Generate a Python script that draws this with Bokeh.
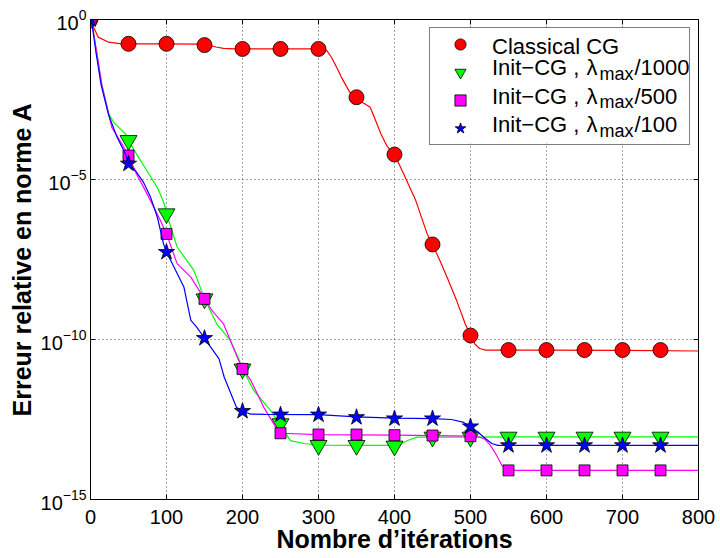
import numpy as np
from bokeh.plotting import figure
from bokeh.models import (Range1d, FixedTicker, LinearAxis, LogAxis, Legend, LegendItem,
                          CustomJSTickFormatter, LogTickFormatter)
from bokeh.core.properties import value
from bokeh.embed import file_html
from bokeh.resources import INLINE

# ---------------- data (log10 of relative A-norm error) ----------------
marker_iters = [0, 50, 100, 150, 200, 250, 300, 350, 400, 450, 500, 550, 600, 650, 700, 750]

cg_marker_log = [0, -0.76, -0.76, -0.80, -0.92, -0.92, -0.92, -2.43, -4.22, -7.03, -9.875,
                 -10.33, -10.33, -10.33, -10.33, -10.33]
l1000_marker_log = [0, -3.78, -6.07, -8.73, -10.92, -12.63, -13.31, -13.31, -13.33, -13.05, -13.05,
                    -13.05, -13.05, -13.05, -13.05, -13.05]
l500_marker_log = [0, -4.25, -6.70, -8.73, -10.92, -12.93, -12.97, -12.97, -12.99, -13.0, -13.02,
                   -14.09, -14.09, -14.09, -14.09, -14.09]
l100_marker_log = [0, -4.51, -7.27, -9.96, -12.24, -12.35, -12.35, -12.43, -12.47, -12.47, -12.72,
                   -13.31, -13.31, -13.31, -13.31, -13.31]

cg_line_iters = [0, 2, 10, 24, 41, 100, 140, 155, 165, 175, 190, 300, 306, 311, 317, 324, 330, 341,
                 350, 355, 368, 375, 382, 390, 395, 400, 412, 428, 443, 450, 460, 470, 482, 493, 500,
                 506, 512, 520, 600, 700, 800]
cg_line_log = [0, -0.13, -0.55, -0.71, -0.76, -0.76, -0.77, -0.80, -0.86, -0.90, -0.92, -0.92, -0.93,
               -0.97, -1.18, -1.50, -1.80, -2.27, -2.43, -2.55, -2.74, -3.15, -3.57, -3.95, -4.10,
               -4.22, -4.82, -5.66, -6.70, -7.03, -7.55, -8.10, -8.80, -9.51, -9.875, -10.15, -10.28,
               -10.33, -10.33, -10.34, -10.36]

l1000_line_iters = [0, 2, 8, 15, 24, 30, 37, 46, 50, 63, 75, 89, 97, 100, 114, 136, 150, 166, 184,
                    195, 200, 215, 237, 254, 263, 281, 300, 350, 400, 408, 418, 430, 500, 600, 700, 800]
l1000_line_log = [0, -0.13, -1.0, -2.05, -2.95, -3.2, -3.37, -3.57, -3.78, -4.3, -4.75, -5.3, -5.76,
                  -6.07, -7.11, -7.84, -8.73, -9.51, -10.03, -10.6, -10.92, -11.6, -12.22, -12.84,
                  -13.16, -13.25, -13.30, -13.31, -13.31, -13.26, -13.15, -13.05, -13.05, -13.04,
                  -13.04, -13.04]

l500_line_iters = [0, 2, 8, 15, 24, 28, 41, 50, 60, 72, 79, 92, 100, 114, 132, 150, 160, 175, 193,
                   200, 211, 228, 241, 246, 250, 300, 400, 500, 510, 518, 526, 534, 541, 548, 555,
                   600, 700, 800]
l500_line_log = [0, -0.13, -1.0, -2.05, -2.95, -3.37, -3.88, -4.25, -4.8, -5.34, -5.66, -6.28, -6.70,
                 -7.63, -8.05, -8.73, -9.1, -9.51, -10.55, -10.92, -11.28, -12.12, -12.63, -12.84,
                 -12.93, -12.97, -12.99, -13.02, -13.04, -13.1, -13.3, -13.6, -13.92, -14.07, -14.09,
                 -14.09, -14.09, -14.09]

l100_line_iters = [0, 2, 7, 14, 24, 35, 46, 50, 60, 70, 79, 88, 96, 100, 110, 123, 132, 140, 150,
                   160, 169, 176, 184, 192, 200, 210, 230, 300, 350, 400, 450, 475, 490, 500, 510,
                   520, 528, 536, 600, 700, 800]
l100_line_log = [0, -0.13, -1.0, -2.05, -3.0, -3.68, -4.2, -4.51, -4.75, -5.1, -5.55, -6.18, -7.0,
                 -7.27, -7.74, -8.37, -9.4, -9.62, -9.96, -10.3, -10.6, -11.18, -11.65, -12.12,
                 -12.24, -12.33, -12.34, -12.35, -12.42, -12.46, -12.47, -12.5, -12.58, -12.72,
                 -12.9, -13.1, -13.25, -13.31, -13.31, -13.31, -13.31]

x_ticks = [0, 100, 200, 300, 400, 500, 600, 700, 800]
y_tick_exponents = [0, -5, -10, -15]

series_labels = ["Classical CG", "Init\u2212CG ,", "Init\u2212CG ,", "Init\u2212CG ,"]
lambda_divisors = ["/1000", "/500", "/100"]

FONT = "Liberation Sans"

# ---------------- figure ----------------
p = figure(width=720, height=558, x_range=Range1d(0, 800), y_range=Range1d(1e-15, 1.0),
           y_axis_type="log", output_backend="svg", toolbar_location=None,
           min_border_left=90, min_border_right=22, min_border_top=19, min_border_bottom=59,
           background_fill_color="white", border_fill_color="white")
p.outline_line_color = "black"
p.outline_line_width = 1

xt = FixedTicker(ticks=x_ticks, minor_ticks=[])
yt = FixedTicker(ticks=[10.0 ** e for e in y_tick_exponents], minor_ticks=[])

xa = p.xaxis[0]
xa.ticker = xt
xa.major_tick_in = 5
xa.major_tick_out = 0
xa.minor_tick_line_color = None
xa.major_label_text_font = FONT
xa.major_label_text_font_size = "20px"
xa.major_label_text_color = "black"
xa.major_label_standoff = 10
xa.axis_label = "Nombre d\u2019it\u00e9rations"
xa.axis_label_text_font = FONT
xa.axis_label_text_font_style = "bold"
xa.axis_label_text_font_size = "25px"
xa.axis_label_text_color = "black"
xa.axis_label_standoff = -2
xa.axis_line_color = "black"
xa.major_tick_line_color = "black"

ya = p.yaxis[0]
ya.ticker = yt
ya.formatter = LogTickFormatter()
ya.major_tick_in = 5
ya.major_tick_out = 0
ya.minor_tick_line_color = None
ya.major_label_standoff = 4
ya.major_label_text_font = FONT
ya.major_label_text_font_size = "20px"
ya.major_label_text_color = "black"
ya.axis_label = "Erreur relative en norme A"
ya.axis_label_text_font = FONT
ya.axis_label_text_font_style = "bold"
ya.axis_label_text_font_size = "25px"
ya.axis_label_text_color = "black"
ya.axis_label_standoff = 2
ya.axis_line_color = "black"
ya.major_tick_line_color = "black"

top = LinearAxis(ticker=FixedTicker(ticks=x_ticks, minor_ticks=[]),
                 formatter=CustomJSTickFormatter(code="return ''"),
                 major_tick_in=5, major_tick_out=0, minor_tick_line_color=None,
                 major_label_standoff=0, major_label_text_font_size="1px")
p.add_layout(top, "above")
right = LogAxis(ticker=FixedTicker(ticks=[10.0 ** e for e in y_tick_exponents], minor_ticks=[]),
                formatter=CustomJSTickFormatter(code="return ''"),
                major_tick_in=5, major_tick_out=0, minor_tick_line_color=None,
                major_label_standoff=0, major_label_text_font_size="1px")
p.add_layout(right, "right")

p.xgrid.ticker = xt
p.ygrid.ticker = yt
for g in (p.xgrid[0], p.ygrid[0]):
    g.grid_line_color = "#333333"
    g.grid_line_alpha = 0.9
    g.grid_line_dash = "1 3"
    g.grid_line_width = 1

# ---------------- layout helpers (screen px -> data) ----------------
def dx(px):
    return (px - 90) / 608 * 800

def dy(py):
    return 10 ** (-(py - 19) / 480 * 15)

# white backing for the legend box (hides grid lines under it)
p.quad(left=[dx(431)], right=[dx(690)], top=[dy(27)], bottom=[dy(143)],
       fill_color="white", line_color=None)

# ---------------- series ----------------
def vals(logs):
    return [10.0 ** v for v in logs]

series = [
    (cg_line_iters, cg_line_log, cg_marker_log, "#ff0000", "circle", 15),
    (l1000_line_iters, l1000_line_log, l1000_marker_log, "#00ff00", "inverted_triangle", 17),
    (l500_line_iters, l500_line_log, l500_marker_log, "#ff00ff", "square", 11),
    (l100_line_iters, l100_line_log, l100_marker_log, "#0000ff", "star", 17),
]
marker_renderers = []
for lx, ly, my, col, mk, sz in series:
    p.line(lx, vals(ly), line_color=col, line_width=1.2)
    r = p.scatter(marker_iters, vals(my), marker=mk, size=sz, fill_color=col,
                  line_color="black", line_width=0.8)
    marker_renderers.append(r)

# ---------------- legend (box + markers) ----------------
legend = Legend(items=[LegendItem(label=" ", renderers=[r]) for r in marker_renderers],
                location="top_right", margin=8, padding=2, glyph_width=56, glyph_height=28,
                spacing=0, label_standoff=5, label_width=194, label_height=20,
                label_text_font_size="8px", border_line_color="black", border_line_width=1,
                background_fill_alpha=0.0)
p.add_layout(legend)

# ---------------- legend texts ----------------
baselines = [45.5, 67, 95.5, 124]
main_x, main_y, main_t = [], [], []
sub_x, sub_y, sub_t = [], [], []
for i, txt in enumerate(series_labels):
    main_x.append(dx(491.5)); main_y.append(dy(baselines[i])); main_t.append(txt)
for i, div in enumerate(lambda_divisors):
    b = baselines[i + 1]
    main_x += [dx(586), dx(634)]
    main_y += [dy(b), dy(b)]
    main_t += ["\u03bb", div]
    sub_x.append(dx(599)); sub_y.append(dy(b + 6)); sub_t.append("max")

p.text(x=main_x, y=main_y, text=main_t, text_font=value(FONT), text_font_size="22px",
       text_baseline="alphabetic", text_align="left", text_color="black")
p.text(x=sub_x, y=sub_y, text=sub_t, text_font=value(FONT), text_font_size="18px",
       text_baseline="alphabetic", text_align="left", text_color="black")

open("out.html", "w").write(file_html(p, INLINE))
